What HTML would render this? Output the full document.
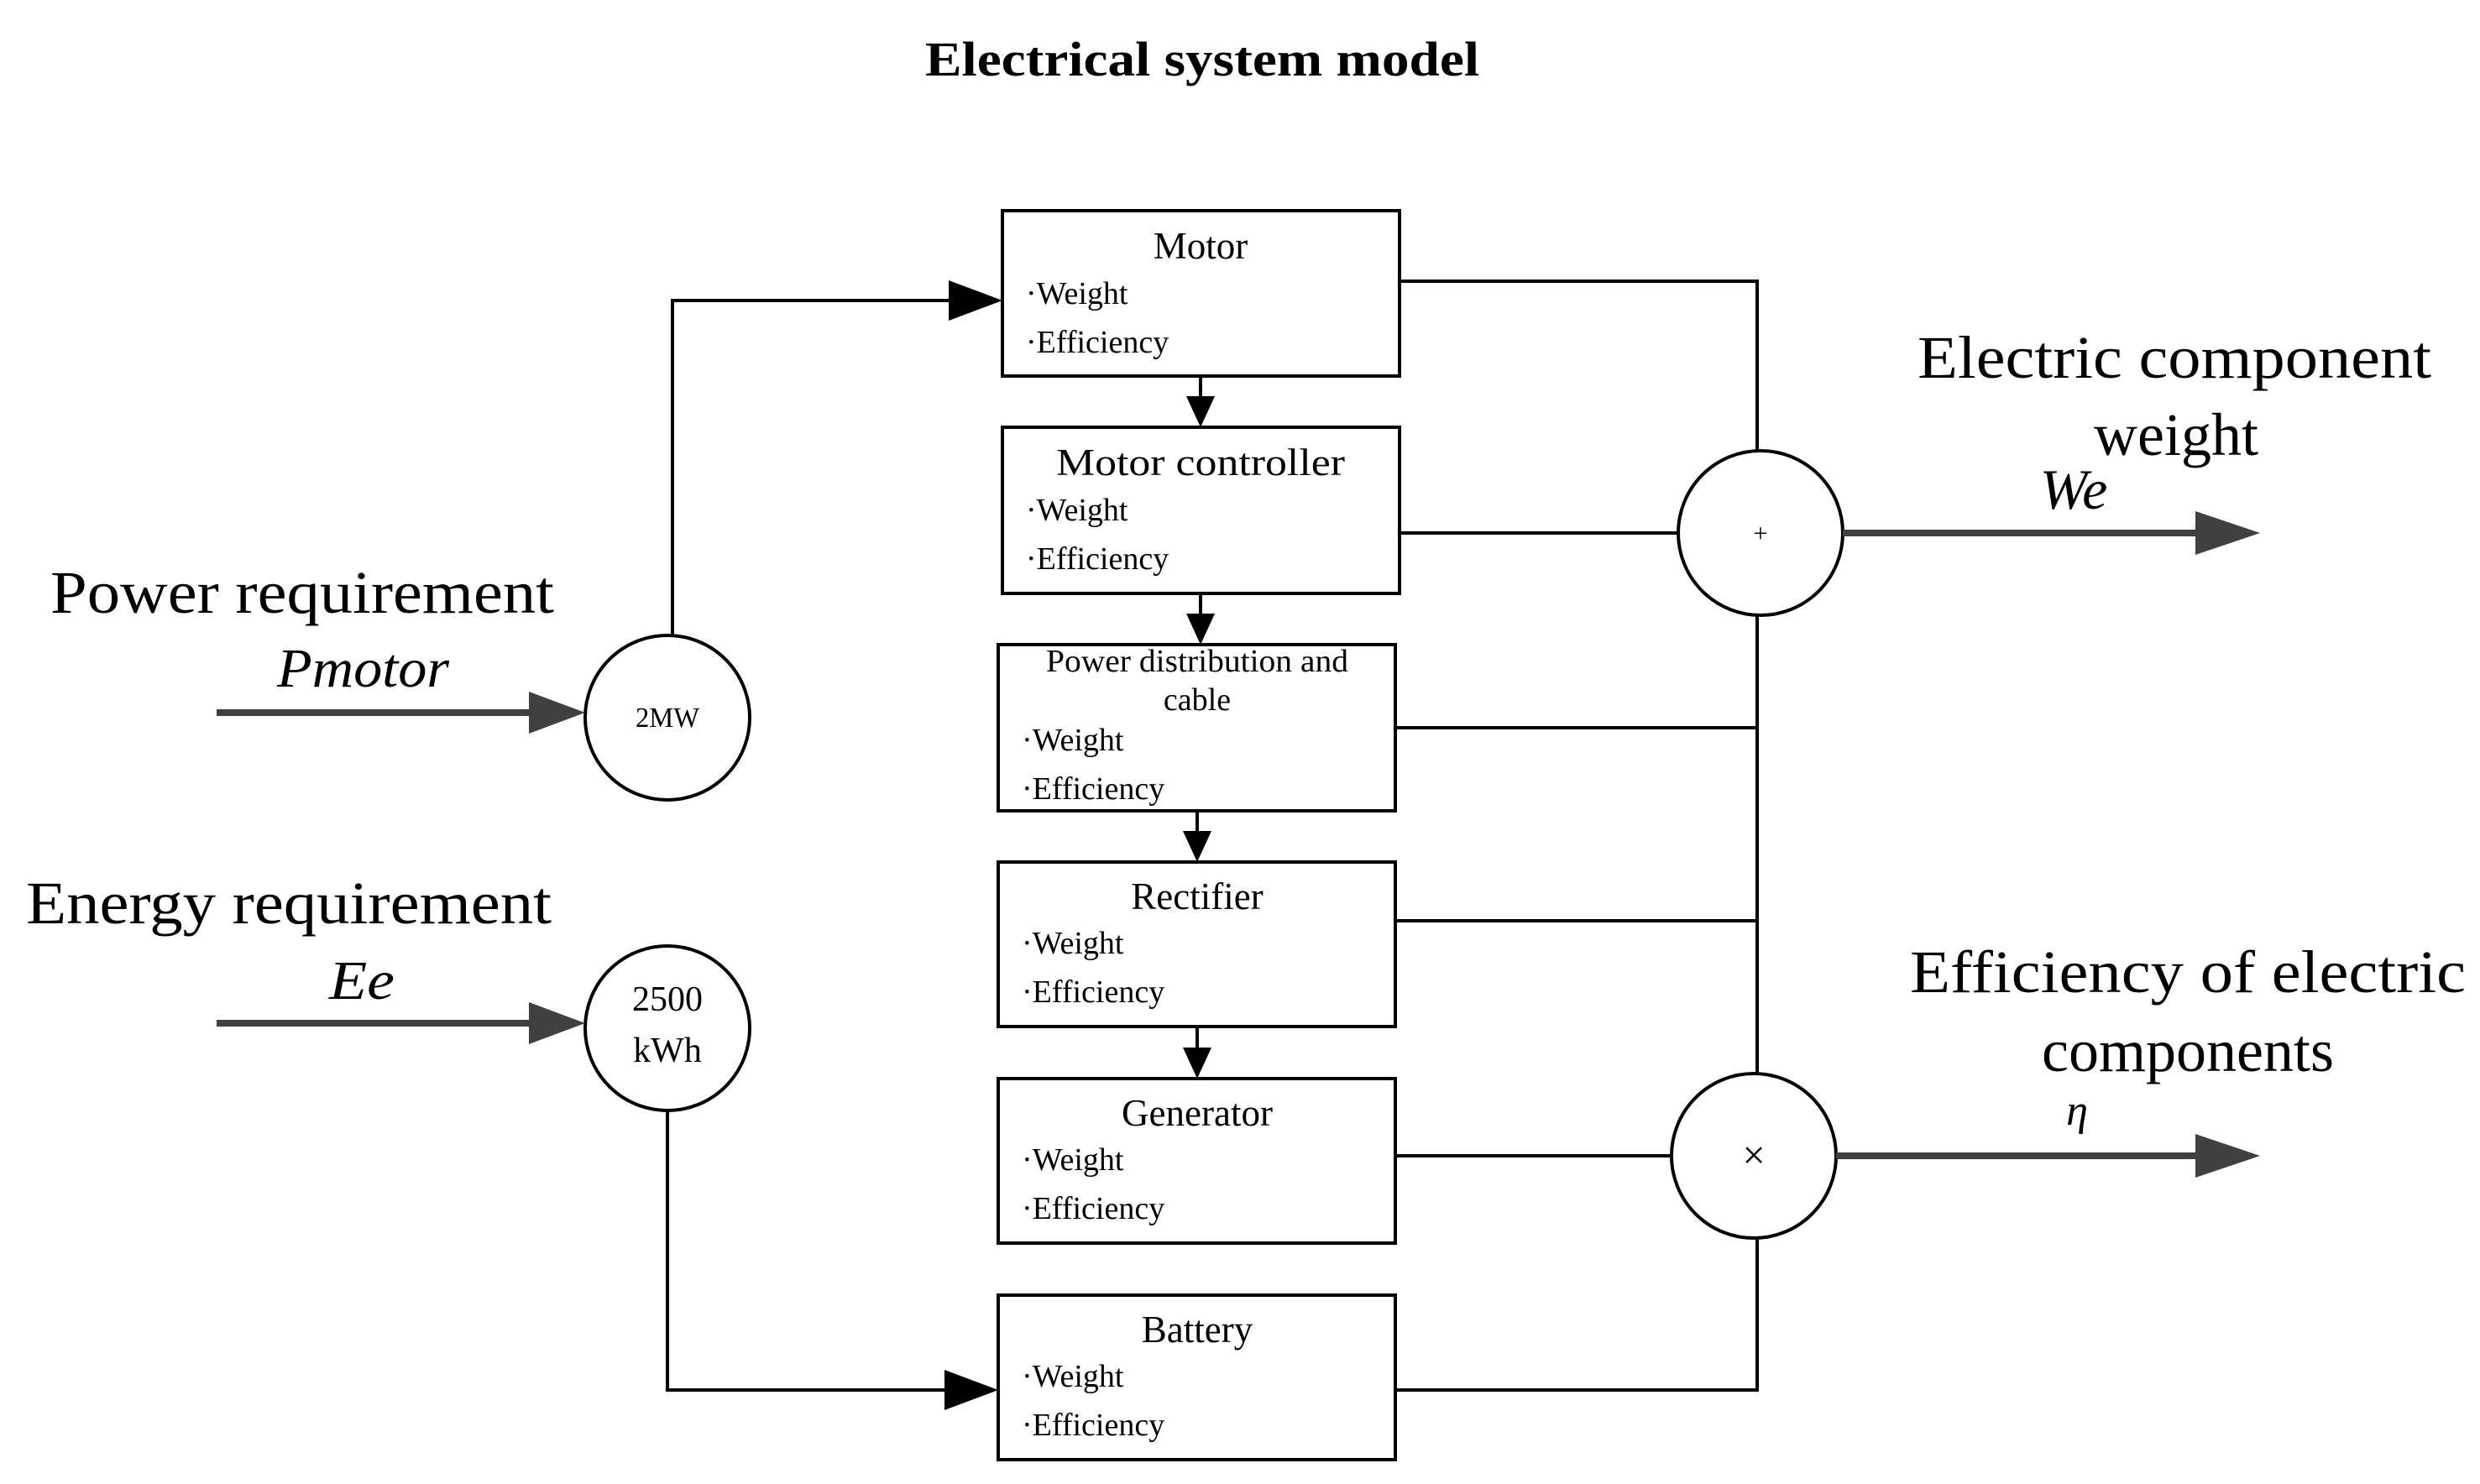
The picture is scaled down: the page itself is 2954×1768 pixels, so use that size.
<!DOCTYPE html>
<html><head><meta charset="utf-8"><style>
html,body{margin:0;padding:0;background:#fff;}
svg{display:block;}
text{font-family:"Liberation Serif",serif;fill:#000;}
</style></head><body>
<svg width="2954" height="1768" viewBox="0 0 2954 1768" xmlns="http://www.w3.org/2000/svg">
<defs>
<marker id="ah" markerWidth="10" markerHeight="10" refX="10" refY="5" orient="auto" markerUnits="userSpaceOnUse" viewBox="0 0 10 10">
</marker>
</defs>
<text x="1432" y="90" font-size="58" font-weight="bold" text-anchor="middle" textLength="660" lengthAdjust="spacingAndGlyphs">Electrical system model</text>

<g fill="none" stroke="#000" stroke-width="4">
<rect x="1194" y="251" width="473" height="197"/>
<rect x="1194" y="509" width="473" height="198"/>
<rect x="1189" y="768" width="473" height="198"/>
<rect x="1189" y="1027" width="473" height="196"/>
<rect x="1189" y="1285" width="473" height="196"/>
<rect x="1189" y="1543" width="473" height="196"/>
<circle cx="795" cy="855" r="98"/>
<circle cx="795" cy="1225" r="98"/>
<circle cx="2097" cy="635" r="98"/>
<circle cx="2089" cy="1377" r="98"/>
<!-- connectors -->
<polyline points="801,757 801,358 1150,358"/>
<polyline points="795,1323 795,1656 1145,1656"/>
<line x1="1430" y1="448" x2="1430" y2="475"/>
<line x1="1430" y1="707" x2="1430" y2="734"/>
<line x1="1426" y1="966" x2="1426" y2="993"/>
<line x1="1426" y1="1223" x2="1426" y2="1251"/>
<polyline points="1667,335 2093,335 2093,537"/>
<line x1="1667" y1="635" x2="1999" y2="635"/>
<line x1="2093" y1="733" x2="2093" y2="1280"/>
<line x1="1662" y1="867" x2="2093" y2="867"/>
<line x1="1662" y1="1097" x2="2093" y2="1097"/>
<line x1="1662" y1="1377" x2="1991" y2="1377"/>
<polyline points="1662,1656 2093,1656 2093,1475"/>
</g>
<g fill="#000">
<polygon points="1194,358 1130,334 1130,382"/>
<polygon points="1189,1656 1125,1632 1125,1680"/>
<polygon points="1430,509 1413,472 1447,472"/>
<polygon points="1430,768 1413,731 1447,731"/>
<polygon points="1426,1027 1409,990 1443,990"/>
<polygon points="1426,1285 1409,1248 1443,1248"/>
</g>
<!-- thick gray arrows -->
<g stroke="#404040" stroke-width="8" fill="none">
<line x1="258" y1="849" x2="640" y2="849"/>
<line x1="258" y1="1219" x2="640" y2="1219"/>
<line x1="2195" y1="635" x2="2625" y2="635"/>
<line x1="2187" y1="1377" x2="2625" y2="1377"/>
</g>
<g fill="#404040">
<polygon points="697,849 630,824 630,874"/>
<polygon points="697,1219 630,1194 630,1244"/>
<polygon points="2692,635 2615,609 2615,661"/>
<polygon points="2692,1377 2615,1351 2615,1403"/>
</g>
<!-- circle labels -->
<text x="795" y="866" font-size="34" text-anchor="middle" fill="#333" textLength="76" lengthAdjust="spacingAndGlyphs">2MW</text>
<text x="795" y="1204" font-size="42" text-anchor="middle" fill="#333">2500</text>
<text x="795" y="1265" font-size="42" text-anchor="middle" fill="#333">kWh</text>
<text x="2097" y="645" font-size="30" text-anchor="middle" fill="#444">+</text>
<text x="2089" y="1392" font-size="48" text-anchor="middle" fill="#444">×</text>
<!-- left labels -->
<text x="60" y="730" font-size="72" textLength="600" lengthAdjust="spacingAndGlyphs">Power requirement</text>
<text x="330" y="818" font-size="66" font-style="italic" textLength="205" lengthAdjust="spacingAndGlyphs">Pmotor</text>
<text x="31" y="1100" font-size="72" textLength="626" lengthAdjust="spacingAndGlyphs">Energy requirement</text>
<text x="392" y="1190" font-size="66" font-style="italic" textLength="78" lengthAdjust="spacingAndGlyphs">Ee</text>
<!-- right labels -->
<text x="2590" y="450" font-size="72" text-anchor="middle" textLength="612" lengthAdjust="spacingAndGlyphs">Electric component</text>
<text x="2592" y="542" font-size="72" text-anchor="middle">weight</text>
<text x="2470" y="606" font-size="68" font-style="italic" text-anchor="middle">We</text>
<text x="2606" y="1182" font-size="72" text-anchor="middle" textLength="662" lengthAdjust="spacingAndGlyphs">Efficiency of electric</text>
<text x="2606" y="1276" font-size="72" text-anchor="middle">components</text>
<text x="2474" y="1340" font-size="52" font-style="italic" text-anchor="middle">η</text>
<!-- box texts -->
<g font-size="45" text-anchor="middle">
<text x="1430" y="308">Motor</text>
<text x="1430" y="566" textLength="344" lengthAdjust="spacingAndGlyphs">Motor controller</text>
<text x="1426" y="800" font-size="38" textLength="360" lengthAdjust="spacingAndGlyphs">Power distribution and</text>
<text x="1426" y="846" font-size="38">cable</text>
<text x="1426" y="1083">Rectifier</text>
<text x="1426" y="1341">Generator</text>
<text x="1426" y="1599">Battery</text>
</g>
<g font-size="38">
<text x="1222" y="362">·Weight</text><text x="1222" y="420">·Efficiency</text>
<text x="1222" y="620">·Weight</text><text x="1222" y="678">·Efficiency</text>
<text x="1217" y="894">·Weight</text><text x="1217" y="952">·Efficiency</text>
<text x="1217" y="1136">·Weight</text><text x="1217" y="1194">·Efficiency</text>
<text x="1217" y="1394">·Weight</text><text x="1217" y="1452">·Efficiency</text>
<text x="1217" y="1652">·Weight</text><text x="1217" y="1710">·Efficiency</text>
</g>
</svg>
</body></html>
